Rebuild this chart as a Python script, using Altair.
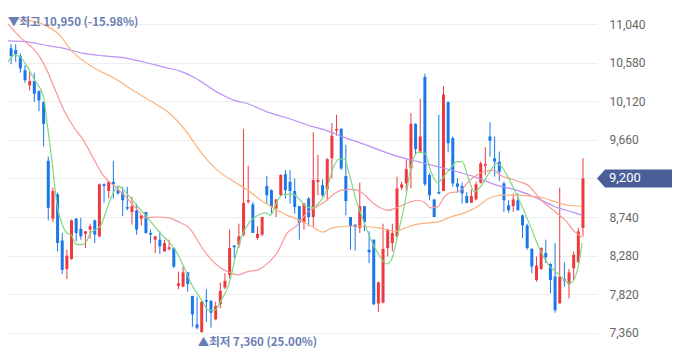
import altair as alt
import pandas as pd

# ---- daily candles ----
opens = [10810, 10750, 10730, 10660, 10490, 10310, 10360, 10240, 10110, 9410,
         8720, 9010, 8460, 8120, 8240, 8720, 8600, 8540, 8590, 8700,
         8510, 9130, 9050, 9160, 9060, 9030, 8860, 8800, 8820, 8720,
         8800, 8550, 8470, 8470, 8330, 8360, 8370, 7920, 7910, 8080,
         7800, 7460, 7370, 7750, 7740, 7520, 7700, 7900, 8050, 8400,
         8410, 8530, 8920, 8890, 8490, 8530, 9110, 9060, 8840, 9000,
         9250, 9160, 9050, 8870, 8670, 8960, 8740, 9160, 9120, 9070,
         9440, 9770, 9790, 9230, 8740, 8650, 8610, 8870, 8350, 8470,
         7710, 7720, 8370, 8430, 8510, 9090, 9140, 9320, 9850, 9520,
         10410, 9240, 8950, 9040, 9050, 10110, 9680, 9140, 9110, 8990,
         8910, 8950, 9150, 9350, 9700, 9440, 9400, 9140, 8880, 8870,
         8940, 8760, 8640, 8360, 7990, 8120, 8310, 8180, 8030, 7710,
         8000, 7940, 8130, 8200, 8610]
highs = [10950, 10800, 10800, 10690, 10550, 10470, 10460, 10250, 10115, 9460,
         9090, 9030, 8550, 8350, 8710, 8730, 8730, 8570, 8660, 8710,
         9140, 9140, 9160, 9410, 9110, 9100, 9100, 8980, 8900, 8760,
         8800, 8590, 8510, 8570, 8470, 8470, 8380, 8090, 8150, 8080,
         7800, 7790, 7740, 7880, 7750, 7730, 7960, 8070, 8590, 8400,
         8660, 9790, 9350, 8920, 8630, 8740, 9230, 9070, 8950, 9250,
         9300, 9300, 9200, 8870, 8910, 8980, 9750, 9480, 9190, 9440,
         9860, 9960, 9800, 9600, 8740, 8650, 9150, 8870, 8570, 8470,
         7970, 8660, 8600, 8660, 9220, 9160, 9420, 9980, 9860, 10150,
         10450, 9260, 8950, 9960, 10300, 10115, 9700, 9200, 9150, 9040,
         9070, 9160, 9400, 9570, 9870, 9700, 9520, 9160, 8940, 9020,
         9020, 8770, 8660, 8370, 8270, 8380, 8470, 8190, 8430, 9090,
         8200, 8120, 8330, 8610, 9440]
lows = [10670, 10560, 10590, 10460, 10340, 10250, 10110, 10000, 9580, 8700,
        8680, 8330, 8060, 8000, 8230, 8450, 8470, 8370, 8480, 8430,
        8500, 8910, 8960, 8960, 9010, 8750, 8820, 8650, 8530, 8640,
        8540, 8430, 8310, 8300, 8330, 8340, 8130, 7880, 7910, 7850,
        7430, 7400, 7360, 7490, 7420, 7510, 7650, 7880, 8010, 8250,
        8370, 8510, 8900, 8550, 8470, 8510, 8900, 8780, 8740, 8990,
        8960, 8900, 8780, 8470, 8590, 8630, 8620, 9000, 8980, 8940,
        9200, 9710, 9300, 8760, 8350, 8340, 8550, 8570, 8190, 7690,
        7610, 7710, 8270, 8330, 8500, 9060, 9050, 9080, 9480, 9520,
        9110, 8940, 8740, 9010, 9050, 9510, 9100, 9030, 8900, 8900,
        8910, 8940, 9140, 9240, 9460, 9220, 9170, 8800, 8790, 8800,
        8820, 8490, 8350, 8070, 7970, 8110, 8190, 7830, 7600, 7710,
        7910, 7770, 7990, 8190, 8510]
closes = [10710, 10660, 10680, 10510, 10370, 10360, 10210, 10130, 9850, 8850,
          9050, 8430, 8110, 8280, 8700, 8550, 8510, 8570, 8630, 8530,
          9130, 9110, 9160, 9130, 9020, 8940, 8840, 8870, 8590, 8760,
          8550, 8530, 8510, 8390, 8430, 8380, 8150, 7950, 8080, 7940,
          7580, 7420, 7730, 7730, 7600, 7680, 7860, 7980, 8370, 8380,
          8510, 8910, 8940, 8550, 8540, 8740, 9000, 8860, 8950, 9240,
          9060, 9050, 8860, 8670, 8900, 8740, 9180, 9180, 9000, 9430,
          9710, 9790, 9320, 8930, 8630, 8620, 8870, 8680, 8320, 7700,
          7960, 8360, 8590, 8550, 9080, 9130, 9310, 9850, 9550, 9700,
          9130, 9000, 8740, 9020, 10200, 9620, 9140, 9100, 9020, 8910,
          8990, 9130, 9380, 9370, 9650, 9400, 9280, 8940, 8820, 8950,
          8820, 8640, 8370, 8150, 8160, 8370, 8260, 7990, 7630, 8030,
          7980, 8080, 8290, 8570, 9200]

# ---- moving-average lines (candle position, price) ----
ma5_pos = [0, 1.8, 2.9, 4.0, 6.1, 8.0, 8.8, 9.9, 10.9, 12.0, 13.0, 13.9, 14.9, 16.0, 17.1,
           18.1, 19.2, 20.2, 21.9, 23.0, 24.0, 25.1, 26.2, 28.3, 30.4, 32.9, 35.0, 36.3, 38.2,
           39.9, 42.0, 43.5, 44.8, 46.2, 47.7, 49.8, 50.9, 52.2, 54.1, 55.7, 56.8, 58.3, 59.6,
           61.7, 63.2, 64.6, 65.7, 67.4, 68.9, 70.1, 71.6, 72.7, 73.7, 75.2, 76.5, 78.4, 80.1,
           81.8, 82.8, 84.3, 85.8, 87.0, 88.5, 90.0, 91.3, 92.7, 94.9, 97.0, 98.0, 99.5, 100.6,
           101.8, 104.0, 105.4, 106.5, 108.2, 110.3, 112.4, 114.5, 116.6, 118.5, 119.6, 121.3,
           122.8, 123.8]
ma5_val = [10560, 10670, 10650, 10575, 10370, 10170, 9840, 9360, 8880, 8650, 8550, 8530, 8420,
           8410, 8440, 8550, 8590, 8630, 8880, 9030, 9110, 9070, 9000, 8860, 8730, 8560, 8440,
           8350, 8140, 7930, 7750, 7630, 7630, 7750, 7910, 8380, 8550, 8670, 8760, 8790, 8760,
           8940, 9010, 9010, 8940, 8860, 8850, 8920, 9060, 9300, 9430, 9430, 9260, 8940, 8740,
           8470, 8290, 8180, 8230, 8560, 8940, 9340, 9510, 9500, 9280, 9150, 9280, 9400, 9400,
           9180, 9040, 9090, 9280, 9380, 9340, 9180, 8940, 8670, 8380, 8170, 8070, 8010, 7950,
           8110, 8430]
ma20_pos = [0, 1.8, 4.0, 6.1, 8.2, 10.3, 12.4, 14.5, 16.6, 18.8, 20.9, 23.6, 25.7, 27.8, 30.0,
            32.1, 35.0, 37.1, 39.3, 42.0, 44.1, 46.2, 48.4, 49.8, 51.9, 54.1, 56.2, 58.3, 60.4,
            62.5, 64.6, 66.7, 68.9, 70.1, 72.2, 74.3, 76.5, 78.6, 80.1, 82.2, 84.3, 86.4, 88.5,
            90.0, 91.3, 92.7, 94.2, 95.5, 97.0, 98.5, 99.7, 101.2, 102.7, 104.8, 106.1, 108.2,
            110.3, 112.4, 113.5, 115.4, 118.1, 120.2, 122.3, 123.8]
ma20_val = [11060, 10950, 10830, 10730, 10550, 10280, 10010, 9810, 9650, 9430, 9230, 9090, 8980,
            8850, 8730, 8740, 8730, 8680, 8610, 8380, 8230, 8130, 8070, 8050, 8090, 8110, 8190,
            8320, 8550, 8640, 8790, 8860, 8940, 9000, 9060, 9070, 9030, 8920, 8860, 8820, 8860,
            8910, 8940, 8910, 8850, 8860, 8980, 9030, 9040, 9100, 9180, 9240, 9280, 9300, 9240,
            9200, 9160, 9110, 9040, 8920, 8800, 8700, 8560, 8500]
ma60_pos = [0, 4.0, 8.2, 11.4, 13.9, 18.8, 23.0, 27.8, 31.4, 35.0, 38.4, 42.0, 43.5, 46.2, 49.0,
            51.9, 54.7, 57.4, 60.4, 63.2, 65.9, 68.0, 70.1, 73.1, 76.5, 80.1, 83.7, 85.8, 87.9,
            90.6, 92.7, 95.5, 98.5, 101.2, 104.0, 107.0, 109.7, 112.4, 115.4, 118.1, 120.9, 123.8]
ma60_val = [11110, 11090, 11030, 10910, 10730, 10520, 10400, 10230, 10110, 9980, 9780, 9500,
            9400, 9260, 9160, 9060, 8940, 8850, 8760, 8700, 8620, 8560, 8610, 8630, 8630, 8610,
            8570, 8610, 8650, 8670, 8680, 8740, 8790, 8860, 8970, 9000, 9000, 8990, 8970, 8920,
            8880, 8870]
ma120_pos = [0, 4.0, 8.2, 12.4, 16.6, 20.9, 25.1, 29.3, 33.6, 37.8, 40.5, 42.0, 45.6, 49.0, 51.9,
             56.2, 60.4, 64.6, 68.9, 73.1, 77.3, 80.1, 84.3, 88.5, 92.7, 97.0, 101.2, 105.4,
             109.7, 113.9, 118.1, 122.3, 123.8]
ma120_val = [10840, 10830, 10790, 10750, 10690, 10660, 10640, 10590, 10530, 10470, 10400, 10350,
             10220, 10130, 10090, 9990, 9920, 9840, 9770, 9680, 9600, 9540, 9460, 9400, 9340,
             9280, 9210, 9120, 9060, 8970, 8860, 8790, 8760]

tick_values = [7360, 7820, 8280, 8740, 9200, 9660, 10120, 10580, 11040]

UP, DOWN = "#ee3a3f", "#1a78ea"
LABEL_COLOR = "#6a7db4"
BOX_COLOR = "#4a5f98"

n = len(closes)
candles = pd.DataFrame({"i": list(range(n)), "open": opens, "high": highs,
                        "low": lows, "close": closes})
candles["dir"] = ["up" if c >= o else "down" for o, c in zip(opens, closes)]
last = closes[-1]

W, H = 589, 340
x_scale = alt.Scale(domain=[1.4165, 125.94], nice=False, zero=False)
y_scale = alt.Scale(domain=[7179, 11231], nice=False, zero=False)
color = alt.Color("dir:N", scale=alt.Scale(domain=["up", "down"], range=[UP, DOWN]), legend=None)
X = alt.X("i:Q", scale=x_scale, axis=None)

# the current-price tag covers the tick label at the last close
label_expr = f"datum.value == {last} ? '' : format(datum.value, ',')"
y_axis = alt.Axis(orient="right", values=tick_values, labelExpr=label_expr, grid=True,
                  gridColor="#eeeeee", gridWidth=1, domain=False, ticks=False,
                  labelPadding=12, labelFontSize=12, labelColor="#666666",
                  labelFont="Roboto", title=None)


def Y(field):
    return alt.Y(field, scale=y_scale, axis=y_axis, title=None)


wicks = alt.Chart(candles).mark_rule(strokeWidth=1, clip=True).encode(
    x=X, y=Y("low:Q"), y2="high:Q", color=color)
bodies = alt.Chart(candles).mark_bar(size=3, clip=True).encode(
    x=X, y=Y("open:Q"), y2="close:Q", color=color)


def ma_line(pos, val, col):
    d = pd.DataFrame({"i": pos, "v": val})
    return alt.Chart(d).mark_line(color=col, strokeWidth=1.2, clip=True,
                                  interpolate="monotone").encode(x=X, y=Y("v:Q"))


lines = [ma_line(ma120_pos, ma120_val, "#bb8ff6"),
         ma_line(ma60_pos, ma60_val, "#fbb37c"),
         ma_line(ma20_pos, ma20_val, "#f7999b"),
         ma_line(ma5_pos, ma5_val, "#80d884")]

hi = max(highs)
lo = min(lows)
hi_i = highs.index(hi)
lo_i = lows.index(lo)

hi_df = pd.DataFrame({"i": [hi_i], "v": [hi],
                      "t": [f"▼최고 {hi:,} ({(last / hi - 1) * 100:.2f}%)"]})
lo_df = pd.DataFrame({"i": [lo_i], "v": [lo],
                      "t": [f"▲최저 {lo:,} ({(last / lo - 1) * 100:.2f}%)"]})
last_df = pd.DataFrame({"v": [last], "t": [f"{last:,}"]})

hi_text = alt.Chart(hi_df).mark_text(align="left", baseline="middle", dy=-9,
                                     fontSize=11.5, fontWeight="bold",
                                     font="Noto Sans CJK KR", color=LABEL_COLOR).encode(
    x=alt.value(0), y=Y("v:Q"), text="t:N")
lo_text = alt.Chart(lo_df).mark_text(align="left", baseline="middle", dy=10, dx=-4,
                                     fontSize=11.5, fontWeight="bold",
                                     font="Noto Sans CJK KR", color=LABEL_COLOR).encode(
    x=X, y=Y("v:Q"), text="t:N")

box_path = "M -1 0 L -0.805 -0.22 L 1 -0.22 L 1 0.22 L -0.805 0.22 Z"
box = alt.Chart(last_df).mark_point(shape=box_path, size=6724, filled=True, opacity=1,
                                    color=BOX_COLOR, strokeWidth=0).encode(
    x=alt.value(W + 41), y=Y("v:Q"))
box_text = alt.Chart(last_df).mark_text(align="left", baseline="middle", fontSize=13,
                                        font="Roboto", color="white").encode(
    x=alt.value(W + 12), y=Y("v:Q"), text="t:N")

chart = alt.layer(wicks, bodies, *lines, hi_text, lo_text, box, box_text).properties(
    width=W, height=H,
    padding={"left": 0, "top": 0, "right": 75, "bottom": 0},
    autosize=alt.AutoSizeParams(type="none"),
).configure_view(stroke=None)

chart.save("out.html", embed_options={"renderer": "svg", "actions": False})
